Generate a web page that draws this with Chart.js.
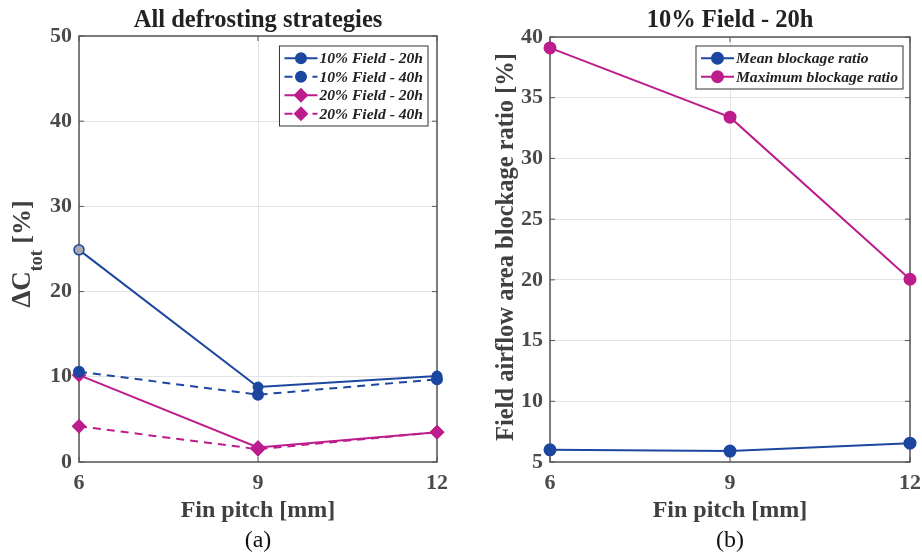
<!DOCTYPE html>
<html>
<head>
<meta charset="utf-8">
<script src="https://cdn.jsdelivr.net/npm/chart.js@4.4.0/dist/chart.umd.min.js"></script>
<style>
body { margin: 0; background: #fff; }
#wrap { position: relative; width: 922px; height: 558px; }
canvas { position: absolute; top: 0; }
#left { left: 0; }
#right { left: 461px; }
</style>
</head>
<body>
<div id="wrap">
  <canvas id="left" width="461" height="558"></canvas>
  <canvas id="right" width="461" height="558"></canvas>
</div>
<script>
// values
const finPitch = [6, 9, 12];
const field10h20 = [24.9, 8.8, 10.1];
const field10h40 = [10.6, 7.9, 9.7];
const field20h20 = [10.2, 1.7, 3.5];
const field20h40 = [4.2, 1.5, 3.5];
const meanBlockage = [6.0, 5.9, 6.55];
const maxBlockage = [39.1, 33.4, 20.05];

const blue = 'rgb(28,71,160)';
const magenta = 'rgb(189,28,140)';
const serif = "'Liberation Serif', 'DejaVu Serif', serif";
const tickCol = '#4a4a4a';

function pts(ys) {
  return finPitch.map((x, i) => ({x: x, y: ys[i]}));
}

// title, frame, inner ticks, boxed legend, caption, rich y title
const decor = {
  id: 'decor',
  beforeDatasetsDraw(chart) {
    const ctx = chart.ctx, a = chart.chartArea;
    const xs = chart.scales.x, ys = chart.scales.y;
    ctx.save();
    ctx.strokeStyle = '#555';
    ctx.lineWidth = 1.5;
    ctx.strokeRect(a.left, a.top, a.right - a.left, a.bottom - a.top);
    ctx.lineWidth = 1;
    ctx.beginPath();
    xs.ticks.forEach(t => {
      const px = xs.getPixelForValue(t.value);
      ctx.moveTo(px, a.bottom); ctx.lineTo(px, a.bottom - 5);
      ctx.moveTo(px, a.top); ctx.lineTo(px, a.top + 5);
    });
    ys.ticks.forEach(t => {
      const py = ys.getPixelForValue(t.value);
      ctx.moveTo(a.left, py); ctx.lineTo(a.left + 5, py);
      ctx.moveTo(a.right, py); ctx.lineTo(a.right - 5, py);
    });
    ctx.stroke();
    ctx.restore();
  },
  afterDraw(chart, args, opts) {
    const ctx = chart.ctx, a = chart.chartArea;
    const midX = (a.left + a.right) / 2;
    ctx.save();
    // plot title
    ctx.font = 'bold 24.5px ' + serif;
    ctx.fillStyle = '#222';
    ctx.textAlign = 'center';
    ctx.textBaseline = 'alphabetic';
    ctx.fillText(opts.title, midX, 27);
    // legend
    const sets = chart.data.datasets;
    ctx.font = 'italic bold 15.6px ' + serif;
    let tw = 0;
    sets.forEach(d => { tw = Math.max(tw, ctx.measureText(d.label).width); });
    const rowH = 18.5, sample = 33;
    const w = 5 + sample + 2 + tw + 5;
    const h = sets.length * rowH + 6;
    const x0 = a.right - opts.legendRight - w, y0 = a.top + opts.legendTop;
    ctx.fillStyle = '#fff';
    ctx.fillRect(x0, y0, w, h);
    ctx.strokeStyle = '#333';
    ctx.lineWidth = 1;
    ctx.strokeRect(x0, y0, w, h);
    sets.forEach((d, i) => {
      const cy = y0 + 3 + rowH * (i + 0.5);
      ctx.strokeStyle = d.borderColor;
      ctx.lineWidth = d.borderWidth;
      ctx.setLineDash(d.borderDash || []);
      ctx.beginPath();
      ctx.moveTo(x0 + 5, cy); ctx.lineTo(x0 + 5 + sample, cy);
      ctx.stroke();
      ctx.setLineDash([]);
      ctx.fillStyle = d.borderColor;
      Chart.helpers.drawPoint(ctx, {pointStyle: d.pointStyle, radius: d.pointRadius, borderWidth: 1, rotation: 0}, x0 + 5 + sample / 2, cy);
      ctx.fillStyle = '#222';
      ctx.textBaseline = 'middle';
      ctx.textAlign = 'left';
      ctx.fillText(d.label, x0 + 5 + sample + 2, cy + 1);
    });
    // caption under the axis title
    ctx.font = '24px ' + serif;
    ctx.fillStyle = '#111';
    ctx.textAlign = 'center';
    ctx.textBaseline = 'middle';
    ctx.fillText(opts.caption, midX, 541);
    // y title, possibly with subscript
    ctx.translate(opts.yTitleX, opts.yTitleY);
    ctx.rotate(-Math.PI / 2);
    ctx.fillStyle = '#404040';
    ctx.textAlign = 'left';
    ctx.textBaseline = 'alphabetic';
    let total = 0;
    opts.yParts.forEach(p => { ctx.font = p.font; total += ctx.measureText(p.text).width; });
    let cx = -total / 2;
    opts.yParts.forEach(p => {
      ctx.font = p.font;
      ctx.fillText(p.text, cx, p.dy);
      cx += ctx.measureText(p.text).width;
    });
    ctx.restore();
  }
};

function axes(yMin, yMax, yStep, yWidth) {
  return {
    x: {
      type: 'linear', min: 6, max: 12,
      afterFit: s => { s.height = 63; s.paddingLeft = 0; s.paddingRight = 0; },
      grid: { color: '#e4e4e4', drawTicks: false },
      border: { display: false },
      ticks: { stepSize: 3, padding: 8, color: tickCol, font: { family: serif, size: 22, weight: 'bold' } },
      title: { display: true, text: 'Fin pitch [mm]', color: '#404040', padding: { top: 0, bottom: 0 },
               font: { family: serif, size: 24, weight: 'bold' } }
    },
    y: {
      min: yMin, max: yMax,
      afterFit: s => { s.width = yWidth; s.paddingTop = 0; s.paddingBottom = 0; },
      grid: { color: '#e4e4e4', drawTicks: false },
      border: { display: false },
      ticks: { stepSize: yStep, padding: 7, color: tickCol, font: { family: serif, size: 22, weight: 'bold' } },
      title: { display: false }
    }
  };
}

new Chart(document.getElementById('left'), {
  type: 'line',
  data: {
    datasets: [
      { label: '10% Field - 20h', data: pts(field10h20), borderColor: blue, borderWidth: 2,
        pointStyle: 'circle', pointRadius: 5, pointBorderColor: blue,
        pointBackgroundColor: ['#a9a9a9', blue, blue], pointBorderWidth: [1.5, 1, 1] },
      { label: '10% Field - 40h', data: pts(field10h40), borderColor: blue, borderWidth: 2, borderDash: [8, 6],
        pointStyle: 'circle', pointRadius: 5, pointBackgroundColor: blue },
      { label: '20% Field - 20h', data: pts(field20h20), borderColor: magenta, borderWidth: 2,
        pointStyle: 'rectRot', pointRadius: 6, pointBackgroundColor: magenta },
      { label: '20% Field - 40h', data: pts(field20h40), borderColor: magenta, borderWidth: 2, borderDash: [8, 6],
        pointStyle: 'rectRot', pointRadius: 6, pointBackgroundColor: magenta }
    ]
  },
  options: {
    responsive: false,
    animation: false,
    clip: false,
    layout: { padding: { left: 0, right: 24, top: 36, bottom: 33 } },
    scales: axes(0, 50, 10, 79),
    plugins: {
      legend: { display: false },
      tooltip: { enabled: false },
      title: { display: false },
      decor: {
        title: 'All defrosting strategies',
        caption: '(a)', legendRight: 9, legendTop: 10,
        yTitleX: 30, yTitleY: 254,
        yParts: [
          { text: '\u0394C', font: 'bold 27px ' + serif, dy: 0 },
          { text: 'tot', font: 'bold 18px ' + serif, dy: 12 },
          { text: ' [%]', font: 'bold 26px ' + serif, dy: 0 }
        ]
      }
    }
  },
  plugins: [decor]
});

new Chart(document.getElementById('right'), {
  type: 'line',
  data: {
    datasets: [
      { label: 'Mean blockage ratio', data: pts(meanBlockage), borderColor: blue, borderWidth: 2,
        pointStyle: 'circle', pointRadius: 5.5, pointBackgroundColor: blue },
      { label: 'Maximum blockage ratio', data: pts(maxBlockage), borderColor: magenta, borderWidth: 2,
        pointStyle: 'circle', pointRadius: 5.5, pointBackgroundColor: magenta }
    ]
  },
  options: {
    responsive: false,
    animation: false,
    clip: false,
    layout: { padding: { left: 0, right: 12, top: 37, bottom: 33 } },
    scales: axes(5, 40, 5, 89),
    plugins: {
      legend: { display: false },
      tooltip: { enabled: false },
      title: { display: false },
      decor: {
        title: '10% Field - 20h',
        caption: '(b)', legendRight: 7, legendTop: 9,
        yTitleX: 52, yTitleY: 247,
        yParts: [ { text: 'Field airflow area blockage ratio [%]', font: 'bold 24.5px ' + serif, dy: 0 } ]
      }
    }
  },
  plugins: [decor]
});
</script>
</body>
</html>
